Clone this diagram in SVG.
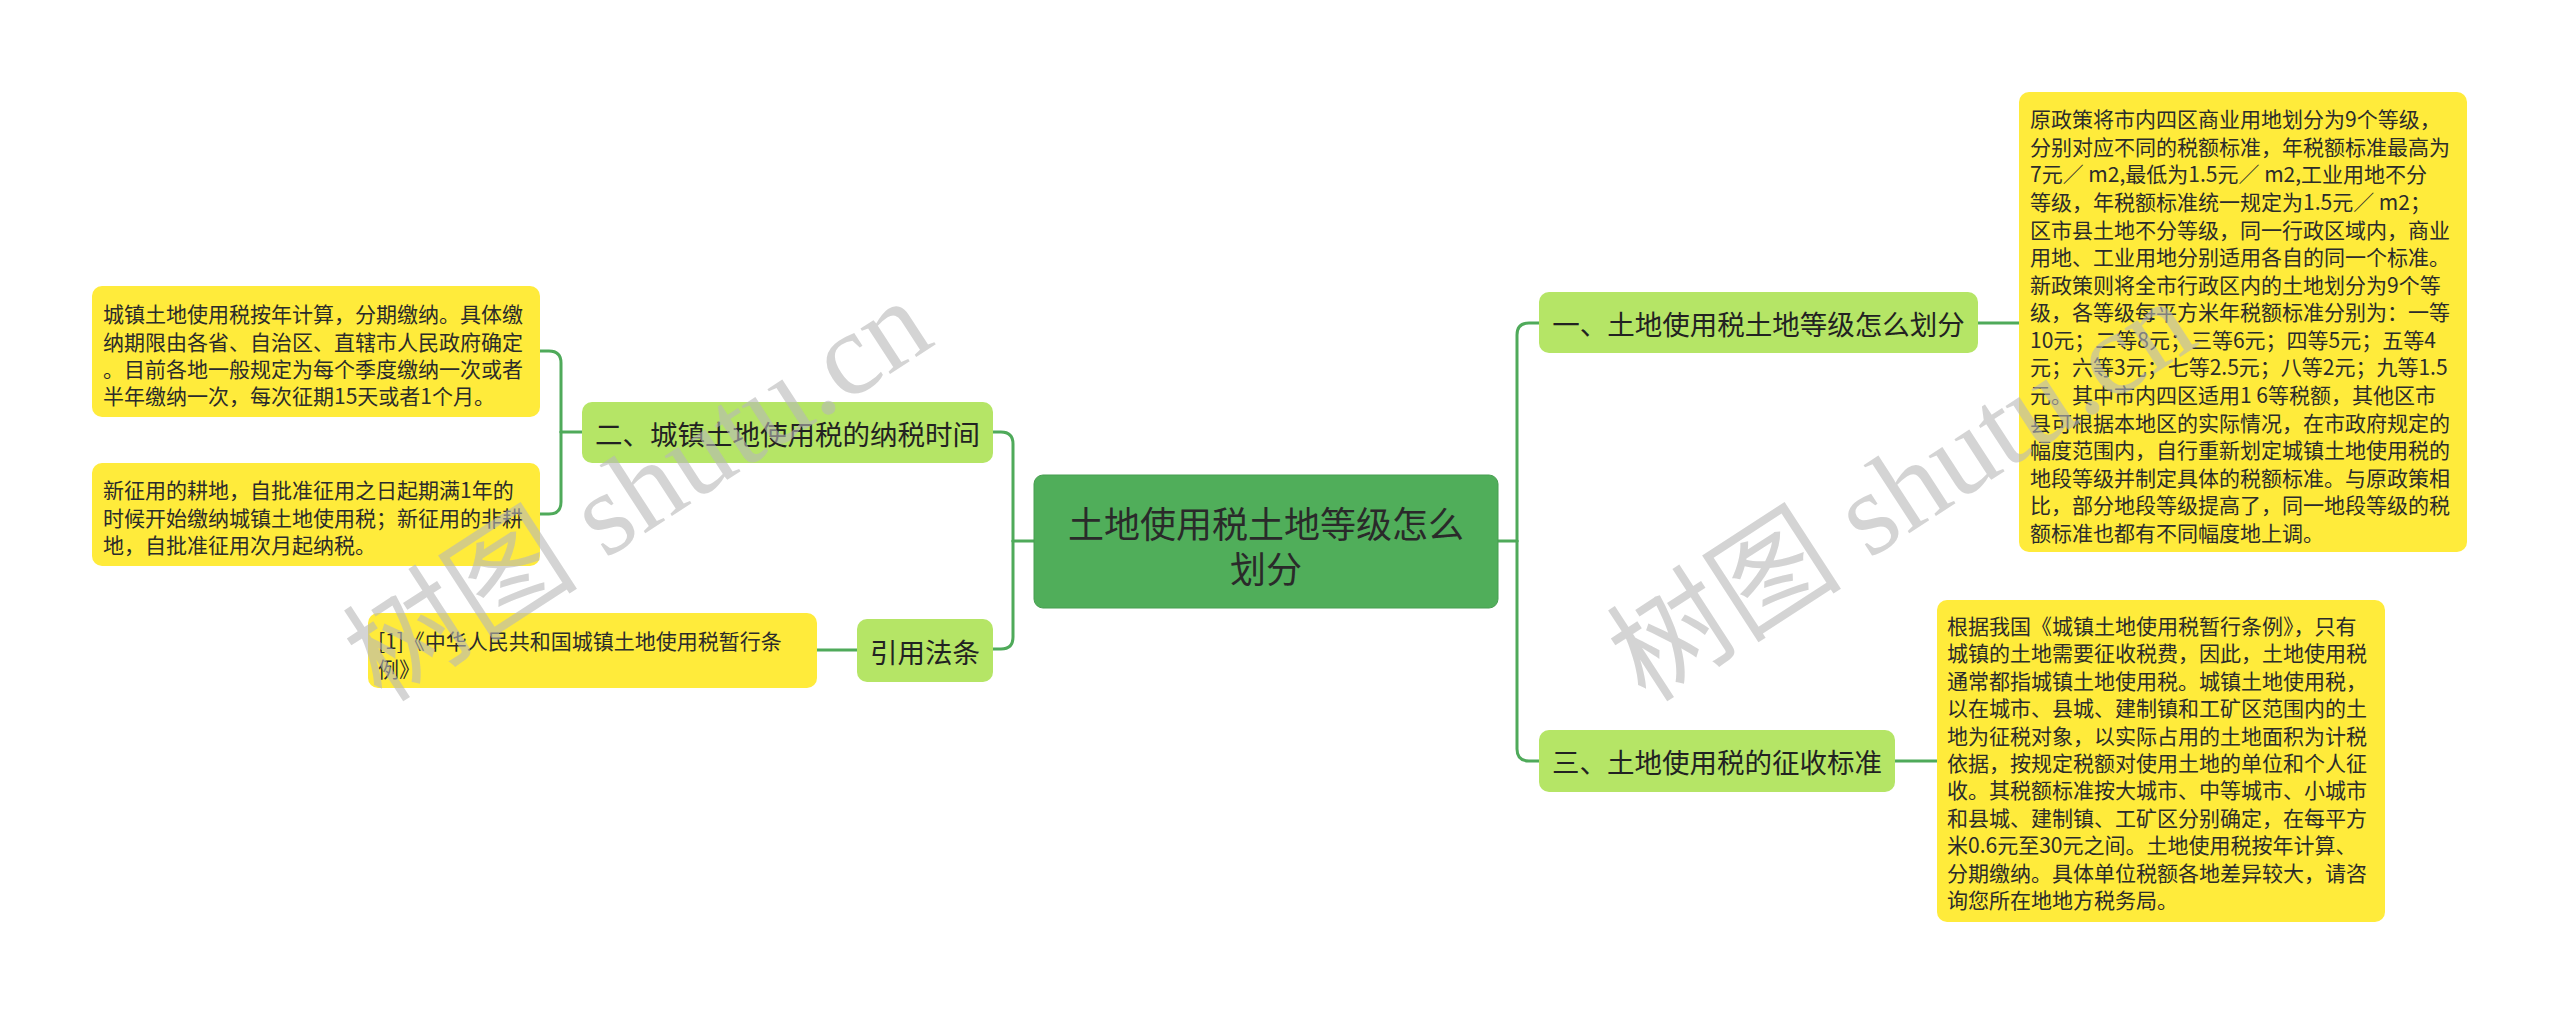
<svg xmlns="http://www.w3.org/2000/svg" width="2560" height="1015" viewBox="0 0 2560 1015">
<style>
.cn{font-family:"Noto Sans CJK SC","Noto Sans",sans-serif;}
.root rect{fill:#50ae5a;stroke:#479e50;stroke-width:1;}
.root text{font-size:36px;fill:#2a2a2a;text-anchor:middle;dominant-baseline:central;}
.sub rect{fill:#b5e566;}
.sub text{font-size:27.5px;fill:#222;text-anchor:middle;dominant-baseline:central;}
.leaf rect{fill:#ffeb3b;}
.leaf text{font-size:21px;fill:#2b2b2b;dominant-baseline:central;}
.conn path{fill:none;stroke:#4faa5a;stroke-width:3;stroke-linecap:round;}
.wm{font-family:"Liberation Serif","Noto Sans CJK SC",serif;font-size:118px;fill:#b8b8b8;fill-opacity:0.6;}
</style>
<rect x="0" y="0" width="2560" height="1015" fill="#ffffff"/>
<g id="connectors" class="conn">
  <path d="M1498,541 H1517"/>
  <path d="M1517,541 V335 Q1517,323 1529,323 H1539"/>
  <path d="M1517,541 V749 Q1517,761 1529,761 H1539"/>
  <path d="M1978,323 H2019"/>
  <path d="M1895,761 H1937"/>
  <path d="M1034,541 H1013"/>
  <path d="M1013,541 V444 Q1013,432 1001,432 H993"/>
  <path d="M1013,541 V637 Q1013,649 1001,649 H993"/>
  <path d="M582,432 H561"/>
  <path d="M561,432 V363 Q561,351 549,351 H540"/>
  <path d="M561,432 V502 Q561,514 549,514 H540"/>
  <path d="M857,650 H817"/>
</g>
<g id="root" class="root cn">
  <rect x="1034" y="475" width="464" height="133" rx="9"/>
  <text x="1266" y="522">土地使用税土地等级怎么</text>
  <text x="1266" y="567">划分</text>
</g>
<g id="n1" class="sub cn">
  <rect x="1539" y="292" width="439" height="61" rx="10"/>
  <text x="1758.5" y="323">一、土地使用税土地等级怎么划分</text>
</g>
<g id="n3" class="sub cn">
  <rect x="1539" y="730" width="356" height="62" rx="10"/>
  <text x="1717" y="761">三、土地使用税的征收标准</text>
</g>
<g id="n2" class="sub cn">
  <rect x="582" y="402" width="411" height="61" rx="10"/>
  <text x="787.5" y="432.5">二、城镇土地使用税的纳税时间</text>
</g>
<g id="n4" class="sub cn">
  <rect x="857" y="619" width="136" height="63" rx="10"/>
  <text x="925" y="651">引用法条</text>
</g>
<g id="leaf1" class="leaf cn">
  <rect x="2019" y="92" width="448" height="460" rx="10"/>
  <text>
    <tspan x="2030" y="118.3">原政策将市内四区商业用地划分为9个等级，</tspan>
    <tspan x="2030" y="145.9">分别对应不同的税额标准，年税额标准最高为</tspan>
    <tspan x="2030" y="173.4">7元／ m2,最低为1.5元／ m2,工业用地不分</tspan>
    <tspan x="2030" y="201.0">等级，年税额标准统一规定为1.5元／ m2；</tspan>
    <tspan x="2030" y="228.5">区市县土地不分等级，同一行政区域内，商业</tspan>
    <tspan x="2030" y="256.1">用地、工业用地分别适用各自的同一个标准。</tspan>
    <tspan x="2030" y="283.7">新政策则将全市行政区内的土地划分为9个等</tspan>
    <tspan x="2030" y="311.2">级，各等级每平方米年税额标准分别为：一等</tspan>
    <tspan x="2030" y="338.8">10元；二等8元；三等6元；四等5元；五等4</tspan>
    <tspan x="2030" y="366.3">元；六等3元；七等2.5元；八等2元；九等1.5</tspan>
    <tspan x="2030" y="393.9">元。其中市内四区适用1 6等税额，其他区市</tspan>
    <tspan x="2030" y="421.5">县可根据本地区的实际情况，在市政府规定的</tspan>
    <tspan x="2030" y="449.0">幅度范围内，自行重新划定城镇土地使用税的</tspan>
    <tspan x="2030" y="476.6">地段等级并制定具体的税额标准。与原政策相</tspan>
    <tspan x="2030" y="504.1">比，部分地段等级提高了，同一地段等级的税</tspan>
    <tspan x="2030" y="531.7">额标准也都有不同幅度地上调。</tspan>
  </text>
</g>
<g id="leaf2" class="leaf cn">
  <rect x="1937" y="600" width="448" height="322" rx="10"/>
  <text>
    <tspan x="1947" y="625">根据我国《城镇土地使用税暂行条例》，只有</tspan>
    <tspan x="1947" y="652.4">城镇的土地需要征收税费，因此，土地使用税</tspan>
    <tspan x="1947" y="679.8">通常都指城镇土地使用税。城镇土地使用税，</tspan>
    <tspan x="1947" y="707.2">以在城市、县城、建制镇和工矿区范围内的土</tspan>
    <tspan x="1947" y="734.6">地为征税对象，以实际占用的土地面积为计税</tspan>
    <tspan x="1947" y="762.0">依据，按规定税额对使用土地的单位和个人征</tspan>
    <tspan x="1947" y="789.4">收。其税额标准按大城市、中等城市、小城市</tspan>
    <tspan x="1947" y="816.8">和县城、建制镇、工矿区分别确定，在每平方</tspan>
    <tspan x="1947" y="844.2">米0.6元至30元之间。土地使用税按年计算、</tspan>
    <tspan x="1947" y="871.6">分期缴纳。具体单位税额各地差异较大，请咨</tspan>
    <tspan x="1947" y="899.0">询您所在地地方税务局。</tspan>
  </text>
</g>
<g id="leaf3" class="leaf cn">
  <rect x="92" y="286" width="448" height="131" rx="10"/>
  <text>
    <tspan x="103" y="313.3">城镇土地使用税按年计算，分期缴纳。具体缴</tspan>
    <tspan x="103" y="340.6">纳期限由各省、自治区、直辖市人民政府确定</tspan>
    <tspan x="103" y="368.0">。目前各地一般规定为每个季度缴纳一次或者</tspan>
    <tspan x="103" y="395.3">半年缴纳一次，每次征期15天或者1个月。</tspan>
  </text>
</g>
<g id="leaf4" class="leaf cn">
  <rect x="92" y="463" width="448" height="103" rx="10"/>
  <text>
    <tspan x="103" y="489.3">新征用的耕地，自批准征用之日起期满1年的</tspan>
    <tspan x="103" y="516.7">时候开始缴纳城镇土地使用税；新征用的非耕</tspan>
    <tspan x="103" y="544.0">地，自批准征用次月起纳税。</tspan>
  </text>
</g>
<g id="leaf5" class="leaf cn">
  <rect x="368" y="613" width="449" height="75" rx="10"/>
  <text>
    <tspan x="378" y="640">[1]《中华人民共和国城镇土地使用税暂行条</tspan>
    <tspan x="378" y="668">例》</tspan>
  </text>
</g>
<g id="watermarks">
  <text class="wm" transform="translate(382,704) rotate(-33)">树图 shutu.cn</text>
  <text class="wm" transform="translate(1646,704) rotate(-33)">树图 shutu.cn</text>
</g>
</svg>
